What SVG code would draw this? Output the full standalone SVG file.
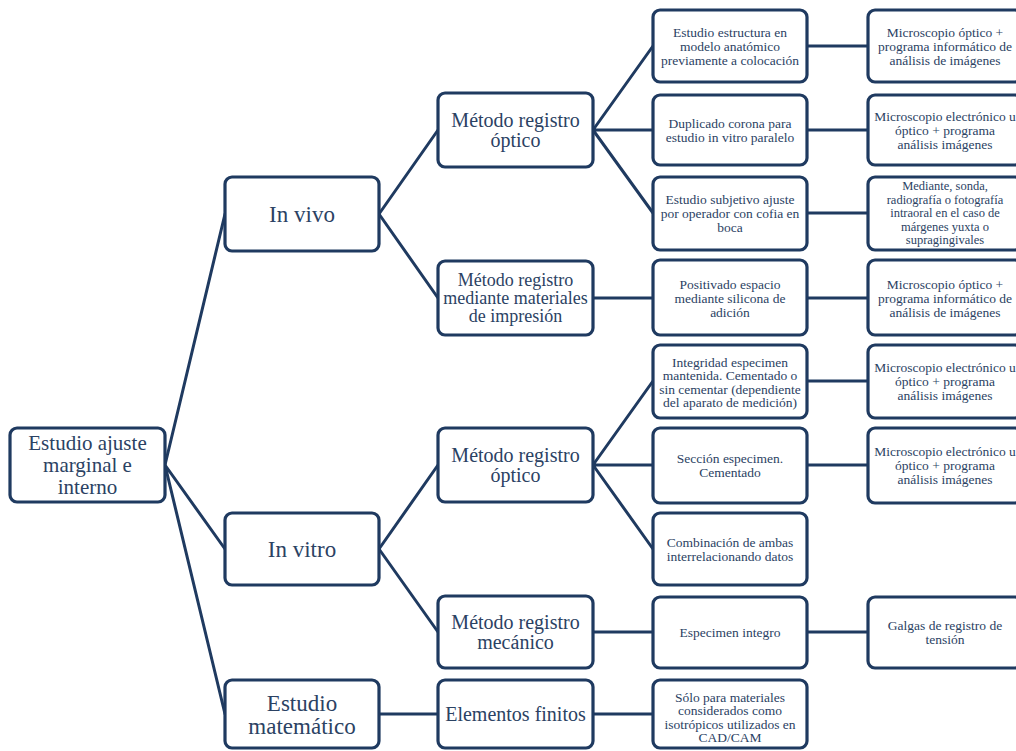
<svg xmlns="http://www.w3.org/2000/svg" width="1016" height="751" viewBox="0 0 1016 751">
<style>
.box{fill:#fff;stroke:#1f3a60;stroke-width:3.2}
.ln{stroke:#1f3a60;stroke-width:3;fill:none;stroke-linecap:round}
text{font-family:"Liberation Serif","Times New Roman",serif;fill:#2b4263;text-anchor:middle}
.f0{font-size:21px}
.f1{font-size:23px}
.f2{font-size:20px}
.f2s{font-size:18px}
.f3{font-size:13.5px}
.f4{font-size:12.5px}
</style>
<rect width="1016" height="751" fill="#fff"/>
<g id="connectors">
<path class="ln" d="M165 465L225 214M165 465L225 549M165 465L225 714"/>
<path class="ln" d="M379 214L438 130M379 214L438 298"/>
<path class="ln" d="M593 130L653 46M593 130L653 130M593 130L653 213"/>
<path class="ln" d="M593 298L653 298"/>
<path class="ln" d="M379 549L438 465M379 549L438 632"/>
<path class="ln" d="M593 465L653 381M593 465L653 465M593 465L653 549"/>
<path class="ln" d="M593 632L653 632M379 714L438 714M593 714L653 714"/>
<path class="ln" d="M807 46L868 46M807 130L868 130M807 213L868 213M807 298L868 298M807 381L868 381M807 465L868 465M807 632L868 632"/>
</g>
<g id="root"><rect class="box" x="10" y="428" width="155" height="74" rx="7"/>
<text class="f0" x="87.5" y="465"><tspan x="87.5" dy="-14.6">Estudio ajuste</tspan><tspan x="87.5" dy="22">marginal e</tspan><tspan x="87.5" dy="22">interno</tspan></text></g>
<g id="invivo"><rect class="box" x="225" y="177" width="154" height="74" rx="7"/>
<text class="f1" x="302" y="222">In vivo</text></g>
<g id="invitro"><rect class="box" x="225" y="513" width="154" height="72" rx="7"/>
<text class="f1" x="302" y="557">In vitro</text></g>
<g id="estmat"><rect class="box" x="225" y="680" width="154" height="68" rx="7"/>
<text class="f1" x="302" y="714"><tspan x="302" dy="-3.5">Estudio</tspan><tspan x="302" dy="23">matemático</tspan></text></g>
<g id="m1"><rect class="box" x="438" y="93" width="155" height="74" rx="7"/>
<text class="f2" x="515.5" y="130"><tspan x="515.5" dy="-3">Método registro</tspan><tspan x="515.5" dy="20">óptico</tspan></text></g>
<g id="m2"><rect class="box" x="438" y="261" width="155" height="74" rx="7"/>
<text class="f2s" x="515.5" y="298"><tspan x="515.5" dy="-11.7">Método registro</tspan><tspan x="515.5" dy="18">mediante materiales</tspan><tspan x="515.5" dy="18">de impresión</tspan></text></g>
<g id="m3"><rect class="box" x="438" y="428" width="155" height="74" rx="7"/>
<text class="f2" x="515.5" y="465"><tspan x="515.5" dy="-3">Método registro</tspan><tspan x="515.5" dy="20">óptico</tspan></text></g>
<g id="m4"><rect class="box" x="438" y="596" width="155" height="72" rx="7"/>
<text class="f2" x="515.5" y="632"><tspan x="515.5" dy="-3">Método registro</tspan><tspan x="515.5" dy="20">mecánico</tspan></text></g>
<g id="m5"><rect class="box" x="438" y="680" width="155" height="68" rx="7"/>
<text class="f2" x="515.5" y="721">Elementos finitos</text></g>
<g id="b1"><rect class="box" x="653" y="10" width="154" height="72" rx="7"/>
<text class="f3" x="730" y="46"><tspan x="730" dy="-9.3">Estudio estructura en</tspan><tspan x="730" dy="14">modelo anatómico</tspan><tspan x="730" dy="14">previamente a colocación</tspan></text></g>
<g id="b2"><rect class="box" x="653" y="95" width="154" height="70" rx="7"/>
<text class="f3" x="730" y="130"><tspan x="730" dy="-2.3">Duplicado corona para</tspan><tspan x="730" dy="14">estudio in vitro paralelo</tspan></text></g>
<g id="b3"><rect class="box" x="653" y="177" width="154" height="73" rx="7"/>
<text class="f3" x="730" y="213"><tspan x="730" dy="-9.3">Estudio subjetivo ajuste</tspan><tspan x="730" dy="14">por operador con cofia en</tspan><tspan x="730" dy="14">boca</tspan></text></g>
<g id="b4"><rect class="box" x="653" y="260" width="154" height="75" rx="7"/>
<text class="f3" x="730" y="298"><tspan x="730" dy="-9.3">Positivado espacio</tspan><tspan x="730" dy="14">mediante silicona de</tspan><tspan x="730" dy="14">adición</tspan></text></g>
<g id="b5"><rect class="box" x="653" y="345" width="154" height="73" rx="7"/>
<text class="f3" x="730" y="382"><tspan x="730" dy="-15.3">Integridad especimen</tspan><tspan x="730" dy="13.5">mantenida. Cementado o</tspan><tspan x="730" dy="13.5">sin cementar (dependiente</tspan><tspan x="730" dy="13.5">del aparato de medición)</tspan></text></g>
<g id="b6"><rect class="box" x="653" y="428" width="154" height="75" rx="7"/>
<text class="f3" x="730" y="465"><tspan x="730" dy="-2.3">Sección especimen.</tspan><tspan x="730" dy="14">Cementado</tspan></text></g>
<g id="b7"><rect class="box" x="653" y="513" width="154" height="72" rx="7"/>
<text class="f3" x="730" y="549"><tspan x="730" dy="-2.3">Combinación de ambas</tspan><tspan x="730" dy="14">interrelacionando datos</tspan></text></g>
<g id="b8"><rect class="box" x="653" y="597" width="154" height="71" rx="7"/>
<text class="f3" x="730" y="637">Especimen integro</text></g>
<g id="b9"><rect class="box" x="653" y="680" width="154" height="68" rx="7"/>
<text class="f3" x="730" y="717"><tspan x="730" dy="-15.3">Sólo para materiales</tspan><tspan x="730" dy="13.5">considerados como</tspan><tspan x="730" dy="13.5">isotrópicos utilizados en</tspan><tspan x="730" dy="13.5">CAD/CAM</tspan></text></g>
<g id="c1"><rect class="box" x="868" y="10" width="154" height="72" rx="7"/>
<text class="f3" x="945" y="46"><tspan x="945" dy="-9.3">Microscopio óptico +</tspan><tspan x="945" dy="14">programa informático de</tspan><tspan x="945" dy="14">análisis de imágenes</tspan></text></g>
<g id="c2"><rect class="box" x="868" y="95" width="154" height="70" rx="7"/>
<text class="f3" x="945" y="130"><tspan x="945" dy="-9.3">Microscopio electrónico u</tspan><tspan x="945" dy="14">óptico + programa</tspan><tspan x="945" dy="14">análisis imágenes</tspan></text></g>
<g id="c3"><rect class="box" x="868" y="177" width="154" height="73" rx="7"/>
<text class="f4" x="945" y="213"><tspan x="945" dy="-22.6">Mediante, sonda,</tspan><tspan x="945" dy="13.5">radiografía o fotografía</tspan><tspan x="945" dy="13.5">intraoral en el caso de</tspan><tspan x="945" dy="13.5">márgenes yuxta o</tspan><tspan x="945" dy="13.5">supragingivales</tspan></text></g>
<g id="c4"><rect class="box" x="868" y="260" width="154" height="75" rx="7"/>
<text class="f3" x="945" y="298"><tspan x="945" dy="-9.3">Microscopio óptico +</tspan><tspan x="945" dy="14">programa informático de</tspan><tspan x="945" dy="14">análisis de imágenes</tspan></text></g>
<g id="c5"><rect class="box" x="868" y="345" width="154" height="73" rx="7"/>
<text class="f3" x="945" y="381"><tspan x="945" dy="-9.3">Microscopio electrónico u</tspan><tspan x="945" dy="14">óptico + programa</tspan><tspan x="945" dy="14">análisis imágenes</tspan></text></g>
<g id="c6"><rect class="box" x="868" y="428" width="154" height="75" rx="7"/>
<text class="f3" x="945" y="465"><tspan x="945" dy="-9.3">Microscopio electrónico u</tspan><tspan x="945" dy="14">óptico + programa</tspan><tspan x="945" dy="14">análisis imágenes</tspan></text></g>
<g id="c8"><rect class="box" x="868" y="597" width="154" height="71" rx="7"/>
<text class="f3" x="945" y="632"><tspan x="945" dy="-2.3">Galgas de registro de</tspan><tspan x="945" dy="14">tensión</tspan></text></g>
</svg>
